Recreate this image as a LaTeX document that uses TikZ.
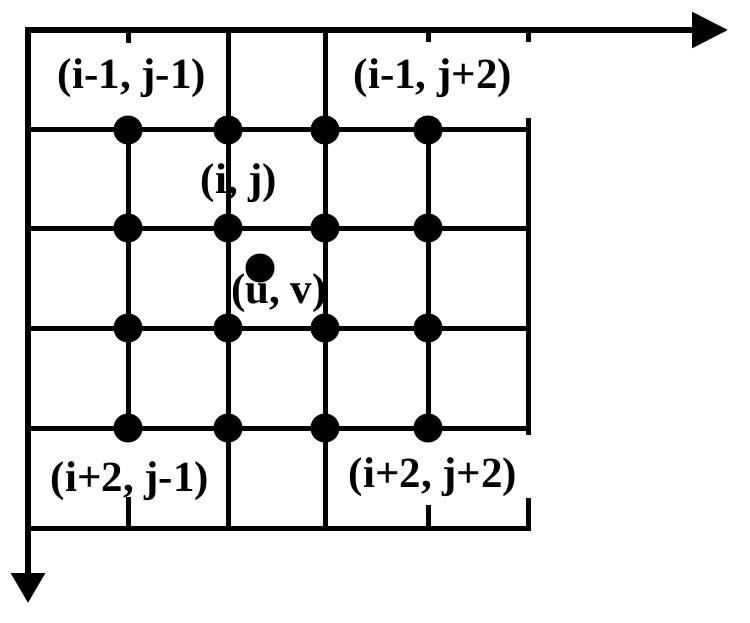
\documentclass[tikz,border=0pt]{standalone}
\usepackage{fontspec}
\setmainfont{Liberation Serif}
\usetikzlibrary{arrows.meta}
\begin{document}
\begin{tikzpicture}[x=1pt,y=-1pt,
  gridline/.style={line width=5pt},
  axisline/.style={line width=6pt},
  dot/.style={circle,fill=black,inner sep=0pt,minimum size=29pt},
  lbl/.style={font=\fontsize{43}{48}\selectfont\bfseries,inner sep=0pt}]
\useasboundingbox (0,0) rectangle (750,623);
% axes
\coordinate (O) at (28,30);
\coordinate (Xend) at (728,30);
\coordinate (Yend) at (28,603);
\draw[axisline,line cap=rect,-{Triangle[length=36pt,width=35pt]}] (O) -- (Xend);
\draw[axisline,-{Triangle[length=30pt,width=33pt]}] (O) -- (Yend);
% horizontal grid lines
\foreach \y in {130,228,328,428,528}
  \draw[gridline] (28,\y) -- (528,\y);
% vertical grid lines
\draw[gridline] (128,30) -- (128,43);
\draw[gridline] (128,130) -- (128,428);
\draw[gridline] (128,497) -- (128,528);
\draw[gridline] (228,30) -- (228,528);
\draw[gridline] (325,30) -- (325,528);
\draw[gridline] (428,30) -- (428,42);
\draw[gridline] (428,130) -- (428,428);
\draw[gridline] (428,505) -- (428,528);
\draw[gridline] (528,30) -- (528,42);
\draw[gridline] (528,118) -- (528,435);
\draw[gridline,line cap=rect] (528,500) -- (528,528);
% labels
\node[lbl] (l11) at (132,78) {(i-1, j-1)};
\node[lbl] (l12) at (433,78) {(i-1, j+2)};
\node[lbl] (lij) at (239,183) {(i, j)};
\node[lbl] (luv) at (279,293) {(u, v)};
\node[lbl] (l21) at (130,481) {(i+2, j-1)};
\node[lbl] (l22) at (433,477) {(i+2, j+2)};
% grid dots
\foreach \x/\c in {128/a,228/b,325/c,428/d}
  \foreach \y/\r in {130/1,228/2,328/3,428/4}
    \node[dot] (p\c\r) at (\x,\y) {};
\node[dot] (puv) at (260,268) {};
\end{tikzpicture}
\end{document}
